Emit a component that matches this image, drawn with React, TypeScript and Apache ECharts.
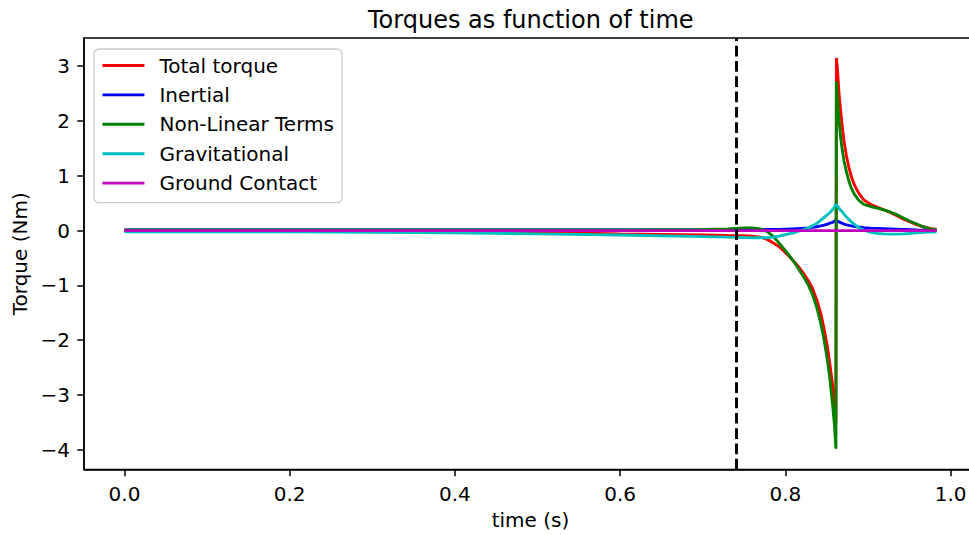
import React, { useEffect, useRef } from "react";
import * as echarts from "echarts";

const time = [0, 0.1, 0.2, 0.3, 0.4, 0.5, 0.6, 0.7, 0.73, 0.75, 0.76, 0.77, 0.778, 0.785, 0.792, 0.798, 0.804, 0.81, 0.816, 0.822, 0.828, 0.833, 0.838, 0.843, 0.847, 0.851, 0.854, 0.857, 0.8595, 0.8612, 0.8618, 0.863, 0.865, 0.867, 0.869, 0.871, 0.874, 0.877, 0.88, 0.884, 0.889, 0.895, 0.903, 0.911, 0.919, 0.927, 0.935, 0.943, 0.951, 0.959, 0.967, 0.975, 0.983];
const totalTorque = [0, 0, 0, 0, -0.01, -0.03, -0.06, -0.08, -0.09, -0.095, -0.1, -0.12, -0.16, -0.22, -0.29, -0.37, -0.46, -0.56, -0.66, -0.78, -0.92, -1.06, -1.26, -1.52, -1.8, -2.13, -2.45, -2.8, -3.15, -3.5, 3.15, 2.95, 2.5, 2.18, 1.88, 1.63, 1.36, 1.15, 0.98, 0.82, 0.68, 0.56, 0.48, 0.43, 0.38, 0.33, 0.27, 0.21, 0.16, 0.11, 0.07, 0.04, 0.02];
const inertial = [0.01, 0.01, 0.01, 0.01, 0.01, 0.01, 0.01, 0.015, 0.02, 0.02, 0.02, 0.02, 0.02, 0.02, 0.022, 0.025, 0.028, 0.032, 0.037, 0.043, 0.05, 0.06, 0.07, 0.085, 0.1, 0.12, 0.135, 0.15, 0.17, 0.19, 0.19, 0.175, 0.16, 0.145, 0.13, 0.12, 0.105, 0.095, 0.085, 0.075, 0.065, 0.055, 0.045, 0.04, 0.035, 0.03, 0.025, 0.02, 0.015, 0.01, 0.008, 0.005, 0.0];
const nonLinear = [0.01, 0.01, 0.01, 0.01, 0.01, 0.01, 0.01, 0.02, 0.03, 0.05, 0.05, 0.03, -0.02, -0.1, -0.22, -0.33, -0.44, -0.56, -0.7, -0.84, -1.0, -1.17, -1.4, -1.7, -2.0, -2.37, -2.72, -3.15, -3.55, -3.98, 2.72, 2.45, 2.02, 1.69, 1.46, 1.27, 1.07, 0.9, 0.77, 0.65, 0.55, 0.48, 0.44, 0.41, 0.38, 0.34, 0.29, 0.23, 0.17, 0.12, 0.07, 0.03, 0.01];
const gravitational = [-0.02, -0.02, -0.02, -0.03, -0.04, -0.06, -0.08, -0.11, -0.12, -0.125, -0.13, -0.13, -0.13, -0.12, -0.1, -0.08, -0.06, -0.04, -0.01, 0.02, 0.05, 0.09, 0.13, 0.19, 0.24, 0.29, 0.33, 0.38, 0.43, 0.48, 0.48, 0.45, 0.41, 0.37, 0.34, 0.3, 0.25, 0.2, 0.16, 0.11, 0.05, 0.01, -0.03, -0.05, -0.06, -0.065, -0.065, -0.06, -0.05, -0.04, -0.03, -0.025, -0.02];
const groundContact = [0, 0, 0, 0, 0, 0, 0, 0, 0, 0, 0, 0, 0, 0, 0, 0, 0, 0, 0, 0, 0, 0, 0, 0, 0, 0, 0, 0, 0, 0, 0, 0, 0, 0, 0, 0, 0, 0, 0, 0, 0, 0, 0, 0, 0, 0, 0, 0, 0, 0, 0, 0, 0];
const seriesNames = ["Total torque", "Inertial", "Non-Linear Terms", "Gravitational", "Ground Contact"];
const seriesColors = ["#ff0000", "#0000ff", "#008000", "#00bfbf", "#bf00bf"];
const xTicks = [0, 0.2, 0.4, 0.6, 0.8, 1.0];
const yTicks = [-4, -3, -2, -1, 0, 1, 2, 3];
const eventTime = 0.737;

const FONT = "DejaVu Sans";
const FS = 20;

export default function App() {
  const ref = useRef<HTMLDivElement>(null);
  useEffect(() => {
    if (!ref.current) return;
    const chart = echarts.init(ref.current, undefined, { renderer: "svg" });
    const values = [totalTorque, inertial, nonLinear, gravitational, groundContact];
    const series: any[] = values.map((vals, i) => ({
      name: seriesNames[i],
      type: "line",
      data: time.map((t, j) => [t, vals[j]]),
      showSymbol: false,
      symbol: "none",
      lineStyle: { color: seriesColors[i], width: 2.9 },
      itemStyle: { color: seriesColors[i] },
      clip: true,
    }));
    series[series.length - 1].markLine = {
      silent: true,
      symbol: ["none", "none"],
      label: { show: false },
      lineStyle: { color: "#000", type: [10.7, 4.6], width: 2.9 },
      data: [{ xAxis: eventTime }],
    };
    const axisCommon = {
      axisLine: { show: true, onZero: false, lineStyle: { color: "#000", width: 1.5 } },
      splitLine: { show: false },
    };
    chart.setOption({
      animation: false,
      title: {
        text: "Torques as function of time",
        left: 363,
        top: 3,
        textStyle: { fontFamily: FONT, fontSize: 24, fontWeight: "normal", color: "#000" },
      },
      legend: {
        orient: "vertical",
        left: 94,
        top: 49,
        data: seriesNames,
        itemWidth: 42,
        itemHeight: 20,
        itemGap: 9.4,
        padding: [6.5, 8, 9.6, 7],
        backgroundColor: "rgba(255,255,255,0.8)",
        borderColor: "#cccccc",
        borderWidth: 1.3,
        borderRadius: 5,
        itemStyle: { opacity: 0 },
        lineStyle: { width: 2.9 },
        textStyle: { fontFamily: FONT, fontSize: FS, lineHeight: 20, color: "#000", padding: [0, 0, 0, 10] },
      },
      grid: { left: 84, right: 0, top: 38, height: 435.5, show: true, borderColor: "#000", borderWidth: 1.5 },
      xAxis: {
        type: "value",
        min: -0.049,
        max: 1.032,
        name: "time (s)",
        nameLocation: "middle",
        nameGap: 40.5,
        nameTextStyle: { fontFamily: FONT, fontSize: FS, color: "#000" },
        ...axisCommon,
        axisTick: { show: true, length: 6.75, lineStyle: { color: "#000", width: 1.5 }, customValues: xTicks },
        axisLabel: {
          fontFamily: FONT,
          fontSize: FS,
          color: "#000",
          margin: 14,
          customValues: xTicks,
          formatter: (v: number) => v.toFixed(1),
        },
      },
      yAxis: {
        type: "value",
        min: -4.36,
        max: 3.515,
        name: "Torque (Nm)",
        nameLocation: "middle",
        nameGap: 50,
        nameTextStyle: { fontFamily: FONT, fontSize: FS, color: "#000" },
        ...axisCommon,
        axisTick: { show: true, length: 6.75, lineStyle: { color: "#000", width: 1.5 }, customValues: yTicks },
        axisLabel: {
          fontFamily: FONT,
          fontSize: FS,
          color: "#000",
          margin: 14,
          customValues: yTicks,
          formatter: (v: number) => (v < 0 ? "\u2212" + Math.abs(v) : String(v)),
        },
      },
      series,
    });
    return () => chart.dispose();
  }, []);
  return (
    <div style={{ position: "fixed", left: 0, top: 0, width: 969, height: 535, overflow: "hidden", background: "#fff" }}>
      <div ref={ref} style={{ width: 977, height: 535 }} />
    </div>
  );
}
